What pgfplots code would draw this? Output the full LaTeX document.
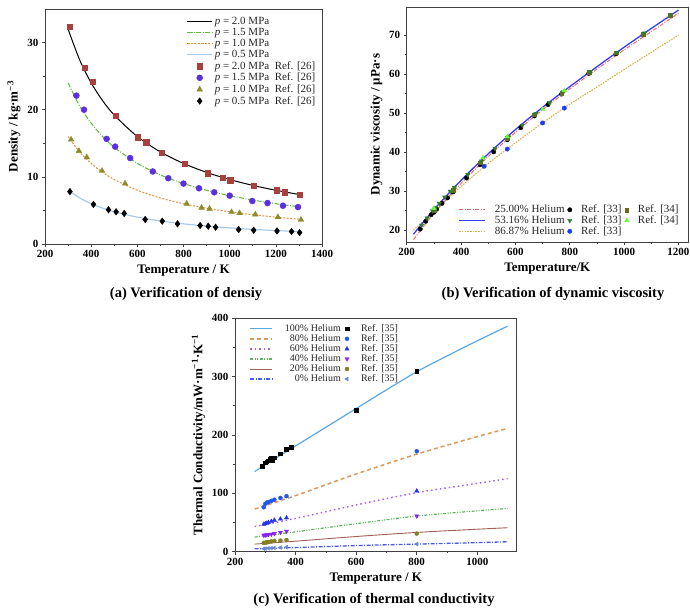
\documentclass[border=0pt]{standalone}
\usepackage{fontspec}
\setmainfont{Liberation Serif}
\usepackage{pgfplots}
\pgfplotsset{compat=1.18}

% panel (a)
\definecolor{aline15}{HTML}{5DBB3F}
\definecolor{aline10}{HTML}{E3913A}
\definecolor{aline05}{HTML}{A9CBEA}
\definecolor{amark20}{HTML}{A8403E}
\definecolor{amark15}{HTML}{5B2EE0}
\definecolor{amark10}{HTML}{8C8C2C}
% panel (b)
\definecolor{bred}{HTML}{E8706A}
\definecolor{bblue}{HTML}{3A3AF5}
\definecolor{bgold}{HTML}{D8B04A}
\definecolor{bgreen}{HTML}{2E7D2E}
\definecolor{bolive}{HTML}{6B6B1E}
\definecolor{blime}{HTML}{66FF33}
\definecolor{bdot}{HTML}{1E3CFF}
% panel (c)
\definecolor{c100}{HTML}{5AA8E0}
\definecolor{c80}{HTML}{D99A5B}
\definecolor{c60}{HTML}{A45CF0}
\definecolor{c40}{HTML}{5CB85C}
\definecolor{c20}{HTML}{A0605A}
\definecolor{c0}{HTML}{4A5CF0}
\definecolor{cm80}{HTML}{2255EE}
\definecolor{cm60}{HTML}{2233EE}
\definecolor{cm40}{HTML}{8822EE}
\definecolor{cm20}{HTML}{808020}
\definecolor{cm0}{HTML}{6688CC}

\pgfplotsset{
  panel/.style={
    scale only axis, anchor=south west,
    axis line style={black!75, line width=0.7pt},
    tick align=outside, xtick pos=bottom, ytick pos=left,
    major tick length=3pt, minor tick length=1.8pt,
    tick style={black!75, line width=0.6pt},
    minor x tick num=1, minor y tick num=1,
    /pgf/number format/assume math mode=true,
    /pgf/number format/1000 sep={}, scaled ticks=false,
    tick label style={font=\fontsize{11}{12}\selectfont\bfseries},
    label style={font=\fontsize{13}{14}\selectfont\bfseries},
    legend cell align=left,
  },
  alegend/.style={legend image code/.code={%
    \draw[mark repeat=2, mark phase=2, ##1] plot coordinates {(0pt,0pt) (12.5pt,0pt) (25pt,0pt)};}},
  linelegend/.style={legend image code/.code={\draw[##1] (0pt,0pt) -- (#1,0pt);}},
  marklegend/.style={legend image code/.code={\draw[##1] plot coordinates {(0pt,0pt)};}},
}

\begin{document}
\begin{tikzpicture}
\path[use as bounding box] (0pt,0pt) rectangle (690pt,612pt);

%================ (a) density
\begin{axis}[panel, at={(45pt,368pt)}, width=277pt, height=235pt,
  xmin=200, xmax=1400, ymin=0, ymax=35,
  xtick={200,400,...,1400}, ytick={0,10,20,30},
  xlabel={Temperature / K},
  ylabel={Density / kg·m\textsuperscript{−3}},
  alegend,
  legend style={at={(0.995,0.985)}, anchor=north east, draw=none, fill=none,
    font=\fontsize{11}{12}\selectfont, text=black!85, row sep=-1.6pt},
]
\addplot[black, line width=1pt, smooth] coordinates {
  (300,32) (350,27.43) (400,24) (450,21.33) (500,19.2) (600,16) (700,13.71)
  (800,12) (900,10.67) (1000,9.6) (1100,8.73) (1200,8) (1300,7.38)};
\addlegendentry{\textit{p} = 2.0 MPa}
\addplot[aline15, line width=1pt, dash pattern=on 5pt off 1.5pt on 1pt off 1.5pt, smooth] coordinates {
  (300,24) (350,20.57) (400,18) (450,16) (500,14.4) (600,12) (700,10.29)
  (800,9) (900,8) (1000,7.2) (1100,6.55) (1200,6) (1300,5.54)};
\addlegendentry{\textit{p} = 1.5 MPa}
\addplot[aline10, line width=1pt, dash pattern=on 2pt off 1.5pt, smooth] coordinates {
  (300,16) (350,13.71) (400,12) (450,10.67) (500,9.6) (600,8) (700,6.86)
  (800,6) (900,5.33) (1000,4.8) (1100,4.36) (1200,4) (1300,3.69)};
\addlegendentry{\textit{p} = 1.0 MPa}
\addplot[aline05, line width=1.2pt, smooth] coordinates {
  (300,8) (350,6.86) (400,6) (450,5.33) (500,4.8) (600,4) (700,3.43)
  (800,3) (900,2.67) (1000,2.4) (1100,2.18) (1200,2) (1300,1.85)};
\addlegendentry{\textit{p} = 0.5 MPa}
\addplot[only marks, mark=square*, mark size=2.6pt, amark20] coordinates {
  (308,32.4) (373,26.25) (407,24.15) (508,19.15) (603,15.9) (638,15.15)
  (705,13.65) (805,11.9) (904,10.55) (970,9.9) (1002,9.5) (1103,8.65)
  (1205,8.0) (1237,7.7) (1303,7.3)};
\addlegendentry{\textit{p} = 2.0 MPa\enspace Ref. [26]}
\addplot[only marks, mark=*, mark size=3pt, amark15] coordinates {
  (336,22.1) (369,20) (467,15.65) (504,14.5) (569,12.8) (667,10.8)
  (734,9.8) (800,9.0) (867,8.3) (933,7.7) (1000,7.2) (1098,6.4)
  (1164,6.1) (1231,5.7) (1296,5.5)};
\addlegendentry{\textit{p} = 1.5 MPa\enspace Ref. [26]}
\addplot[only marks, mark=triangle*, mark size=3.3pt, amark10] coordinates {
  (313,15.55) (347,13.85) (381,12.9) (447,10.9) (547,9.0) (814,6.0)
  (878,5.4) (913,5.25) (1008,4.75) (1043,4.6) (1111,4.4) (1209,4.0) (1309,3.6)};
\addlegendentry{\textit{p} = 1.0 MPa\enspace Ref. [26]}
\addplot[only marks, mark=diamond*, mark size=3.3pt, black] coordinates {
  (308,7.8) (410,5.9) (475,5.1) (508,4.8) (543,4.55) (634,3.65) (708,3.4)
  (774,3.0) (872,2.75) (907,2.65) (939,2.5) (1039,2.15) (1104,2.05)
  (1205,1.95) (1268,1.85) (1303,1.7)};
\addlegendentry{\textit{p} = 0.5 MPa\enspace Ref. [26]}
\end{axis}
\node[font=\fontsize{14.5}{16}\selectfont\bfseries] at (186pt,318pt) {(a) Verification of densiy};

%================ (b) viscosity
\begin{axis}[panel, at={(406.7pt,370pt)}, width=281.3pt, height=235pt,
  xmin=200, xmax=1235, ymin=17, ymax=77.2,
  xtick={200,400,...,1200}, ytick={20,30,...,70},
  xlabel={Temperature/K},
  ylabel={Dynamic viscosity / μPa·s},
  legend columns=3,
  legend style={at={(0.985,0.008)}, anchor=south east, draw=none, fill=none,
    font=\fontsize{11}{12}\selectfont, text=black!85, row sep=-2.5pt,
    /tikz/every even column/.append style={column sep=1pt},
    /tikz/every odd column/.append style={column sep=7pt}},
]
\addlegendimage{linelegend=26pt, bred, line width=1pt, dash pattern=on 4pt off 1.5pt on 1pt off 1.5pt}
\addlegendentry{25.00\% Helium}
\addlegendimage{marklegend, only marks, mark=*, mark size=2.2pt, black}
\addlegendentry{Ref. [33]}
\addlegendimage{marklegend, only marks, mark=square*, mark size=1.9pt, bolive}
\addlegendentry{Ref. [34]}
\addlegendimage{linelegend=26pt, bblue, line width=1.3pt}
\addlegendentry{53.16\% Helium}
\addlegendimage{marklegend, only marks, mark=triangle*, mark options={rotate=180}, mark size=2.5pt, bgreen}
\addlegendentry{Ref. [33]}
\addlegendimage{marklegend, only marks, mark=triangle*, mark size=2.5pt, blime}
\addlegendentry{Ref. [34]}
\addlegendimage{linelegend=26pt, bgold, line width=1.1pt, dash pattern=on 1.5pt off 1.2pt}
\addlegendentry{86.87\% Helium}
\addlegendimage{marklegend, only marks, mark=*, mark size=2.2pt, bdot}
\addlegendentry{Ref. [33]}

\addplot[forget plot, bgold, line width=1.1pt, dash pattern=on 1.5pt off 1.2pt, smooth] coordinates {
  (225,20) (300,24.8) (400,31.2) (500,37.1) (600,42.4) (700,47.5) (800,52.3)
  (900,56.7) (1000,61.2) (1100,65.6) (1200,70)};
\addplot[forget plot, bred, line width=1pt, dash pattern=on 4pt off 1.5pt on 1pt off 1.5pt, smooth] coordinates {
  (225,17.6) (300,24.3) (400,32) (500,38.9) (600,45.1) (700,50.9) (800,56.2)
  (900,61.3) (1000,66.2) (1100,70.9) (1200,75.6)};
\addplot[forget plot, bblue, line width=1.3pt, smooth] coordinates {
  (225,19) (300,25.3) (400,32.8) (500,39.6) (600,45.8) (700,51.5) (800,56.8)
  (900,61.9) (1000,66.9) (1100,71.7) (1200,76.4)};
\addplot[forget plot, only marks, mark=*, mark size=2.2pt, bdot] coordinates {
  (300,25.3) (370,29.8) (485,36.4) (570,40.8) (700,47.5) (780,51.3)};
\addplot[forget plot, only marks, mark=*, mark size=2.2pt, black] coordinates {
  (250,20.3) (270,22.3) (290,24.0) (300,24.6) (310,25.4) (330,26.9) (350,28.3)
  (370,29.9) (420,33.4) (470,36.8) (520,40.1) (570,43.2) (620,46.3) (670,49.3)
  (720,52.2) (770,54.9) (870,60.2) (970,65.2) (1070,70.1) (1170,74.9)};
\addplot[forget plot, only marks, mark=square*, mark size=1.9pt, bolive] coordinates {
  (300,25.2) (370,30.3) (470,37.3) (570,43.6) (670,49.6) (770,55.2)
  (870,60.5) (970,65.5) (1070,70.3) (1170,75.0)};
\addplot[forget plot, only marks, mark=triangle*, mark options={rotate=180}, mark size=2.5pt, bgreen] coordinates {
  (255,21.3) (275,23.1) (295,25.0) (305,25.8) (320,26.9) (340,28.5) (360,30.0)
  (375,31.0) (425,34.3) (475,37.7) (525,41.0) (575,43.9) (625,46.9) (675,49.9)
  (725,52.7) (775,55.4) (875,60.6) (975,65.6) (1075,70.5) (1170,75.2)};
\addplot[forget plot, only marks, mark=triangle*, mark size=2.5pt, blime] coordinates {
  (300,25.6) (480,38.6) (570,44.0) (700,51.0) (780,55.8)};
\end{axis}
\node[font=\fontsize{14.5}{16}\selectfont\bfseries] at (553pt,318pt) {(b) Verification of dynamic viscosity};

%================ (c) thermal conductivity
\begin{axis}[panel, at={(235pt,60.3pt)}, width=281.7pt, height=233.7pt,
  xmin=200, xmax=1130, ymin=0, ymax=400,
  xtick={200,400,...,1000}, ytick={0,100,...,400},
  xlabel={Temperature / K},
  ylabel={Thermal Conductivity/mW·m\textsuperscript{−1}·K\textsuperscript{−1}},
  legend columns=2,
  legend style={at={(0.04,0.99)}, anchor=north west, draw=none, fill=none,
    font=\fontsize{10}{11}\selectfont, text=black!85, row sep=-2.5pt,
    /tikz/every even column/.append style={column sep=2pt},
    /tikz/every odd column/.append style={column sep=10pt}},
]
\addlegendimage{linelegend=22pt, c100, line width=1.2pt}
\addlegendentry{100\% Helium}
\addlegendimage{marklegend, only marks, mark=square*, mark size=1.8pt, black}
\addlegendentry{Ref. [35]}
\addlegendimage{linelegend=22pt, c80, line width=1.5pt, dash pattern=on 4pt off 3pt}
\addlegendentry{\phantom{1}80\% Helium}
\addlegendimage{marklegend, only marks, mark=*, mark size=2pt, cm80}
\addlegendentry{Ref. [35]}
\addlegendimage{linelegend=22pt, c60, line width=1.4pt, dash pattern=on 1.5pt off 3pt}
\addlegendentry{\phantom{1}60\% Helium}
\addlegendimage{marklegend, only marks, mark=triangle*, mark size=2.4pt, cm60}
\addlegendentry{Ref. [35]}
\addlegendimage{linelegend=22pt, c40, line width=1.2pt, dash pattern=on 3pt off 1.5pt on 1pt off 1.5pt on 1pt off 1.5pt}
\addlegendentry{\phantom{1}40\% Helium}
\addlegendimage{marklegend, only marks, mark=triangle*, mark options={rotate=180}, mark size=2.4pt, cm40}
\addlegendentry{Ref. [35]}
\addlegendimage{linelegend=22pt, c20, line width=0.9pt}
\addlegendentry{\phantom{1}20\% Helium}
\addlegendimage{marklegend, only marks, mark=*, mark size=2pt, cm20}
\addlegendentry{Ref. [35]}
\addlegendimage{linelegend=22pt, c0, line width=1.3pt, dash pattern=on 4pt off 1.5pt on 1pt off 1.5pt}
\addlegendentry{\phantom{10}0\% Helium}
\addlegendimage{marklegend, only marks, mark=triangle*, mark options={rotate=90}, mark size=2.2pt, cm0}
\addlegendentry{Ref. [35]}

\addplot[forget plot, c100, line width=1.2pt, smooth] coordinates {
  (265,137) (300,149) (400,181) (500,213) (600,245) (700,277) (800,308)
  (900,335) (1000,361) (1100,386)};
\addplot[forget plot, c80, line width=1.5pt, dash pattern=on 4pt off 3pt, smooth] coordinates {
  (265,73) (400,96) (600,133) (800,167) (1000,197) (1100,211)};
\addplot[forget plot, c60, line width=1.4pt, dash pattern=on 1.5pt off 3pt, smooth] coordinates {
  (265,43) (400,57) (600,80) (800,101) (1000,117) (1100,125)};
\addplot[forget plot, c40, line width=1.2pt, dash pattern=on 3pt off 1.5pt on 1pt off 1.5pt on 1pt off 1.5pt, smooth] coordinates {
  (265,25) (400,34) (600,48) (800,61) (1000,70) (1100,74)};
\addplot[forget plot, c20, line width=0.9pt, smooth] coordinates {
  (265,13) (400,18) (600,26) (800,33) (1000,38.5) (1100,41)};
\addplot[forget plot, c0, line width=1.3pt, dash pattern=on 4pt off 1.5pt on 1pt off 1.5pt, smooth] coordinates {
  (265,5) (400,7) (600,10.5) (800,13) (1000,15.5) (1100,17)};

\addplot[forget plot, only marks, mark=square*, mark size=1.8pt, black] coordinates {
  (290,146) (300,152) (305,154) (310,156) (315,158) (320,160) (325,157) (330,161)
  (350,168) (370,175) (385,179) (600,242) (800,309)};
\addplot[forget plot, only marks, mark=*, mark size=2pt, cm80] coordinates {
  (295,76) (300,82) (305,84) (310,85) (320,87) (330,89) (350,92) (370,95) (800,172)};
\addplot[forget plot, only marks, mark=triangle*, mark size=2.4pt, cm60] coordinates {
  (295,47) (300,48) (305,49) (310,50) (320,52) (330,54) (350,56) (370,58) (800,104)};
\addplot[forget plot, only marks, mark=triangle*, mark options={rotate=180}, mark size=2.4pt, cm40] coordinates {
  (295,28) (300,28.5) (305,29) (310,29.5) (320,30) (330,31) (350,33) (370,35) (800,61)};
\addplot[forget plot, only marks, mark=*, mark size=2pt, cm20] coordinates {
  (295,15) (300,15.5) (305,16) (310,16.5) (320,17.5) (330,18.5) (350,19) (370,20) (800,31)};
\addplot[forget plot, only marks, mark=triangle*, mark options={rotate=90}, mark size=2.2pt, cm0] coordinates {
  (295,5) (300,5.3) (310,5.8) (320,6.2) (330,6.6) (350,7.2) (370,7.8) (800,13)};
\end{axis}
\node[font=\fontsize{14.5}{16}\selectfont\bfseries] at (374pt,12pt) {(c) Verification of thermal conductivity};
\end{tikzpicture}
\end{document}
